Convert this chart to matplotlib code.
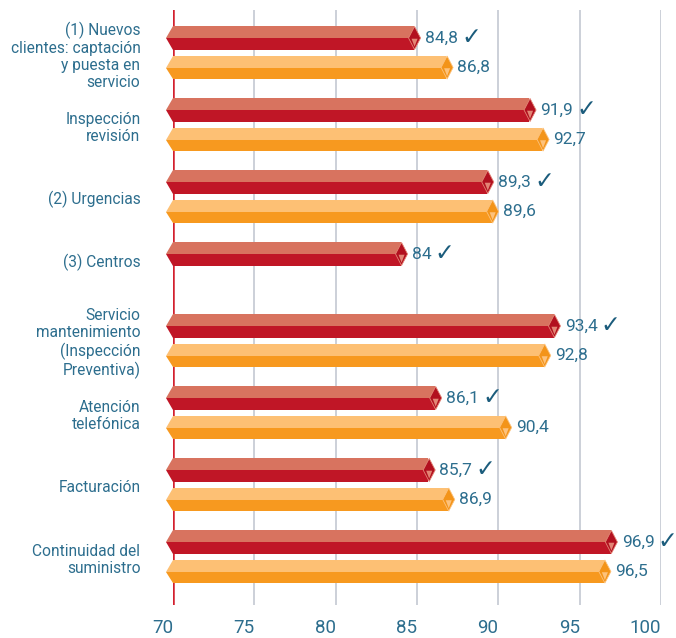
import matplotlib
matplotlib.use("Agg")
import matplotlib.pyplot as plt
from matplotlib.patches import Polygon

categories = [
    "(1) Nuevos\nclientes: captación\ny puesta en\nservicio",
    "Inspección\nrevisión",
    "(2) Urgencias",
    "(3) Centros",
    "Servicio\nmantenimiento\n(Inspección\nPreventiva)",
    "Atención\ntelefónica",
    "Facturación",
    "Continuidad del\nsuministro",
]
red_values = [84.8, 91.9, 89.3, 84.0, 93.4, 86.1, 85.7, 96.9]
orange_values = [86.8, 92.7, 89.6, None, 92.8, 90.4, 86.9, 96.5]
x_ticks = [70, 75, 80, 85, 90, 95, 100]

TEXT = "#2D6E8E"
CHECK = "#1B5C7C"
RED = dict(top="#D8735F", bottom="#C01626", cap="#B2101F", tri="#E38575")
ORANGE = dict(top="#FDC074", bottom="#F7991F", cap="#F39419", tri="#FDC27C")

plt.rcParams["font.family"] = ["Roboto", "DejaVu Sans"]

fig = plt.figure(figsize=(6.76, 6.38), dpi=100)
ax = fig.add_axes([173 / 676, 33 / 638, 488 / 676, 595 / 638])
ax.set_xlim(70, 100)
ax.set_ylim(7.875, -0.389)

for sp in ax.spines.values():
    sp.set_visible(False)
ax.set_yticks([])
ax.set_xticks(x_ticks)
ax.set_xticklabels([str(t) for t in x_ticks], fontsize=13.5, color=TEXT, ha="right")
ax.tick_params(axis="x", length=0, pad=10)

for t in x_ticks[1:]:
    ax.axvline(t, color="#C4C8D2", lw=1.2, zorder=0)
ax.axvline(70, color="#D3202F", lw=1.8, zorder=0)

H = 0.16      # half bar height
TIP = 0.4     # chevron depth on the left end
W = 0.37      # half width of the end cap


def bar(yc, v, pal):
    ax.add_patch(Polygon([(70, yc - H), (v, yc - H), (v, yc), (70 - TIP, yc)],
                         closed=True, fc=pal["top"], ec="none", clip_on=False, zorder=2))
    ax.add_patch(Polygon([(70 - TIP, yc), (v, yc), (v, yc + H), (70, yc + H)],
                         closed=True, fc=pal["bottom"], ec="none", clip_on=False, zorder=2))
    c = v + 0.05
    ax.add_patch(Polygon([(c - W, yc), (c, yc - H), (c + W, yc), (c, yc + H)],
                         closed=True, fc=pal["cap"], ec=pal["tri"], lw=0.6,
                         clip_on=False, zorder=3))
    ax.add_patch(Polygon([(c - W * 0.5, yc + 0.01), (c + W * 0.5, yc + 0.01), (c, yc + H * 0.75)],
                         closed=True, fc=pal["tri"], ec="none", clip_on=False, zorder=4))


def value_label(yc, v, check):
    t = ax.text(v + 0.68, yc, f"{v:g}".replace(".", ","), fontsize=12.5, color=TEXT,
                va="center", ha="left", clip_on=False, zorder=5)
    if check:
        ax.annotate("✓", xy=(1, 0.5), xycoords=t, xytext=(2.5, 1), textcoords="offset points",
                    fontsize=17, fontweight="bold", color=CHECK, va="center", ha="left",
                    family="DejaVu Sans", annotation_clip=False)


OFF = 0.41
for i, (cat, rv, ov) in enumerate(zip(categories, red_values, orange_values)):
    y_red = i
    bar(y_red, rv, RED)
    value_label(y_red, rv, True)
    if ov is not None:
        y_or = i + OFF
        bar(y_or, ov, ORANGE)
        value_label(y_or, ov, False)
        y_lab = i + OFF / 2 + 0.04
    else:
        y_lab = i + 0.11
    ax.text(68.0, y_lab, cat, fontsize=11.2, color=TEXT, ha="right", va="center",
            linespacing=1.17, clip_on=False)

fig.savefig("out.png", dpi=100)
